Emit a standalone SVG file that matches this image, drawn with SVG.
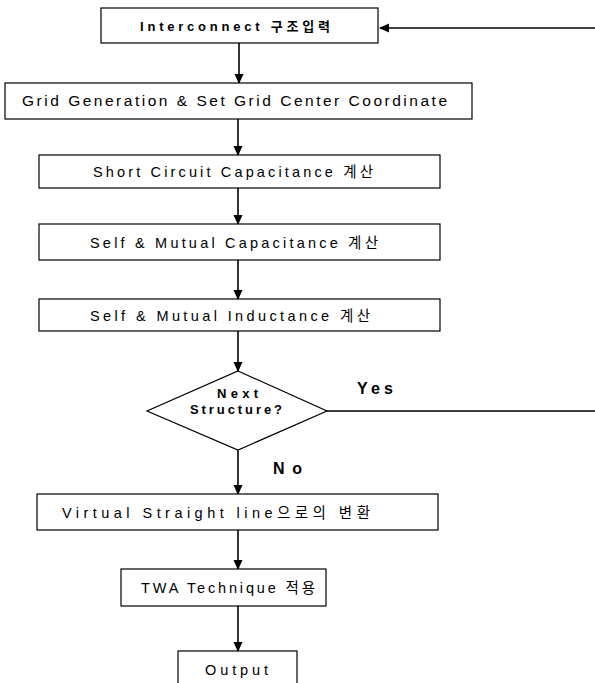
<svg xmlns="http://www.w3.org/2000/svg" width="595" height="683" viewBox="0 0 595 683">
<style>
.box{fill:#fff;stroke:#000;stroke-width:1.2}
.t{font-family:"Liberation Sans","Noto Sans CJK KR",Arial,sans-serif;font-size:14.5px;fill:#000}
.b{font-weight:bold}
.c{stroke:#000;stroke-width:1.6;fill:none}
</style>
<defs>
<marker id="ah" markerWidth="10" markerHeight="10" refX="9" refY="5" orient="auto" markerUnits="userSpaceOnUse">
<path d="M0,0.5 L10,5 L0,9.5 Z" fill="#000"/>
</marker>
</defs>
<rect x="0" y="0" width="595" height="683" fill="#fff"/>
<g id="connectors">
<line class="c" x1="595" y1="28" x2="380" y2="28" marker-end="url(#ah)"/>
<line class="c" x1="239" y1="43" x2="239" y2="83" marker-end="url(#ah)"/>
<line class="c" x1="238" y1="119" x2="238" y2="155" marker-end="url(#ah)"/>
<line class="c" x1="238" y1="188" x2="238" y2="224" marker-end="url(#ah)"/>
<line class="c" x1="238" y1="260" x2="238" y2="299" marker-end="url(#ah)"/>
<line class="c" x1="238" y1="331" x2="238" y2="371" marker-end="url(#ah)"/>
<line class="c" x1="327" y1="411" x2="595" y2="411"/>
<line class="c" x1="238" y1="450" x2="238" y2="494" marker-end="url(#ah)"/>
<line class="c" x1="238" y1="530" x2="238" y2="569" marker-end="url(#ah)"/>
<line class="c" x1="238" y1="606" x2="238" y2="651" marker-end="url(#ah)"/>
<text class="t b" x="357" y="394" textLength="36" lengthAdjust="spacing" style="font-size:16px">Yes</text>
<text class="t b" x="273" y="474" textLength="29" lengthAdjust="spacing" style="font-size:16px">No</text>
</g>
<g id="n1">
<rect class="box" x="101" y="8" width="277" height="35"/>
<text class="t b" x="140" y="31" textLength="190" lengthAdjust="spacing" style="font-size:13px">Interconnect 구조입력</text>
</g>
<g id="n2">
<rect class="box" x="5" y="83" width="467" height="36"/>
<text class="t" x="22" y="106" textLength="425" lengthAdjust="spacing" style="font-size:15.5px">Grid Generation &amp; Set Grid Center Coordinate</text>
</g>
<g id="n3">
<rect class="box" x="39" y="155" width="401" height="33"/>
<text class="t" x="93" y="177" textLength="280" lengthAdjust="spacing">Short Circuit Capacitance 계산</text>
</g>
<g id="n4">
<rect class="box" x="39" y="224" width="401" height="36"/>
<text class="t" x="90" y="248" textLength="288" lengthAdjust="spacing">Self &amp; Mutual Capacitance 계산</text>
</g>
<g id="n5">
<rect class="box" x="39" y="299" width="401" height="32"/>
<text class="t" x="90" y="321" textLength="280" lengthAdjust="spacing">Self &amp; Mutual Inductance 계산</text>
</g>
<g id="n6">
<polygon class="box" points="238,371 327,411 238,450 147,411"/>
<text class="t b" x="217" y="398" textLength="41" lengthAdjust="spacing" style="font-size:13px">Next</text>
<text class="t b" x="190" y="414" textLength="92" lengthAdjust="spacing" style="font-size:13px">Structure?</text>
</g>
<g id="n7">
<rect class="box" x="37" y="494" width="401" height="36"/>
<text class="t" x="62" y="518" textLength="308" lengthAdjust="spacing">Virtual Straight line으로의 변환</text>
</g>
<g id="n8">
<rect class="box" x="121" y="569" width="205" height="37"/>
<text class="t" x="141" y="593" textLength="174" lengthAdjust="spacing">TWA Technique 적용</text>
</g>
<g id="n9">
<rect class="box" x="178" y="651" width="119" height="40"/>
<text class="t" x="205" y="675" textLength="63" lengthAdjust="spacing">Output</text>
</g>
</svg>
